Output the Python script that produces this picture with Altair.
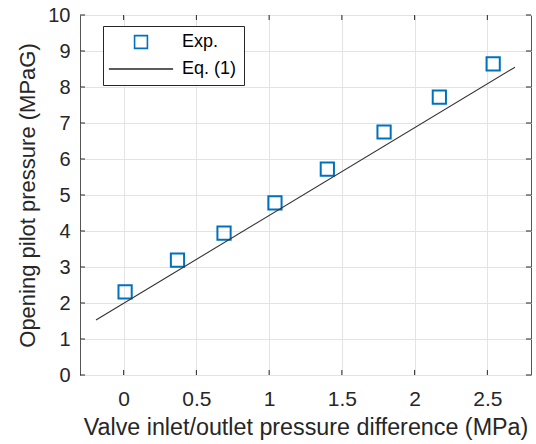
import altair as alt
import pandas as pd

# ---- data ----
x_exp = [0.01, 0.37, 0.69, 1.04, 1.40, 1.79, 2.17, 2.54]
y_exp = [2.31, 3.19, 3.94, 4.78, 5.72, 6.75, 7.72, 8.64]
line_x = [-0.19, 2.69]
line_y = [1.53, 8.55]
x_ticks = [0, 0.5, 1, 1.5, 2, 2.5]
y_ticks = [0, 1, 2, 3, 4, 5, 6, 7, 8, 9, 10]
series_names = ["Exp.", "Eq. (1)"]

W, H = 451, 360
FONT = "Liberation Sans"
AX = "#262626"

exp_df = pd.DataFrame({"x": x_exp, "y": y_exp, "series": ["Exp."] * len(x_exp)})
eq_df = pd.DataFrame({"x": line_x, "y": line_y})
xt_df = pd.DataFrame({"x": x_ticks})
yt_df = pd.DataFrame({"y": y_ticks})

xs = alt.Scale(domain=[-0.3, 2.8], nice=False, zero=False)
ys = alt.Scale(domain=[0, 10], nice=False, zero=False)

x_axis = alt.Axis(values=x_ticks, title="Valve inlet/outlet pressure difference (MPa)",
                  labelExpr="datum.value + ''",
                  labelFontSize=21, titleFontSize=23.3, labelPadding=13, titlePadding=7,
                  tickSize=0, domain=False, grid=True, labelFlush=False, labelOverlap=False)
y_axis = alt.Axis(values=y_ticks, title="Opening pilot pressure (MPaG)",
                  labelExpr="datum.value + ''",
                  labelFontSize=20, titleFontSize=22, labelPadding=10, titlePadding=8,
                  tickSize=0, domain=False, grid=True, labelFlush=False, labelOverlap=False)

X = alt.X("x:Q", scale=xs, axis=x_axis)
Y = alt.Y("y:Q", scale=ys, axis=y_axis)

leg = alt.Legend(title=None)

points = alt.Chart(exp_df).mark_point(filled=False, strokeWidth=2, opacity=1, size=175).encode(
    x=X, y=Y,
    color=alt.Color("series:N", scale=alt.Scale(domain=series_names, range=["#0072BD", "#262626"]), legend=leg),
    shape=alt.Shape("series:N", scale=alt.Scale(domain=series_names, range=["square", "M-5,0H5"]), legend=leg),
)

line = alt.Chart(eq_df).mark_line(color="#333333", strokeWidth=1.1).encode(x=X, y=Y)

TL = 5
tick_style = dict(color=AX, strokeWidth=1)
bottom_ticks = alt.Chart(xt_df).mark_rule(**tick_style).encode(
    x=X, y=alt.value(H), y2=alt.value(H - TL))
top_ticks = alt.Chart(xt_df).mark_rule(**tick_style).encode(
    x=X, y=alt.value(0), y2=alt.value(TL))
left_ticks = alt.Chart(yt_df).mark_rule(**tick_style).encode(
    y=Y, x=alt.value(0), x2=alt.value(TL))
right_ticks = alt.Chart(yt_df).mark_rule(**tick_style).encode(
    y=Y, x=alt.value(W), x2=alt.value(W - TL))

chart = alt.layer(points, line, bottom_ticks, top_ticks, left_ticks, right_ticks).properties(
    width=W, height=H,
    autosize=alt.AutoSizeParams(type="none"),
    padding={"left": 80, "top": 15, "right": 5, "bottom": 69},
    background="white",
).configure_view(
    stroke="#555555", strokeWidth=1
).configure_axis(
    labelFont=FONT, titleFont=FONT, labelColor=AX, titleColor=AX,
    gridColor="#e3e3e3", gridWidth=1, titleFontWeight="normal",
).configure_legend(
    orient="none", legendX=23, legendY=11,
    strokeColor=AX, fillColor="white", padding=7,
    labelFont=FONT, labelFontSize=18, labelColor="black", labelOffset=32,
    symbolSize=165, symbolOffset=22, symbolStrokeWidth=1.6, rowPadding=8,
)

chart.save("out.html", embed_options={"renderer": "svg", "actions": False})
